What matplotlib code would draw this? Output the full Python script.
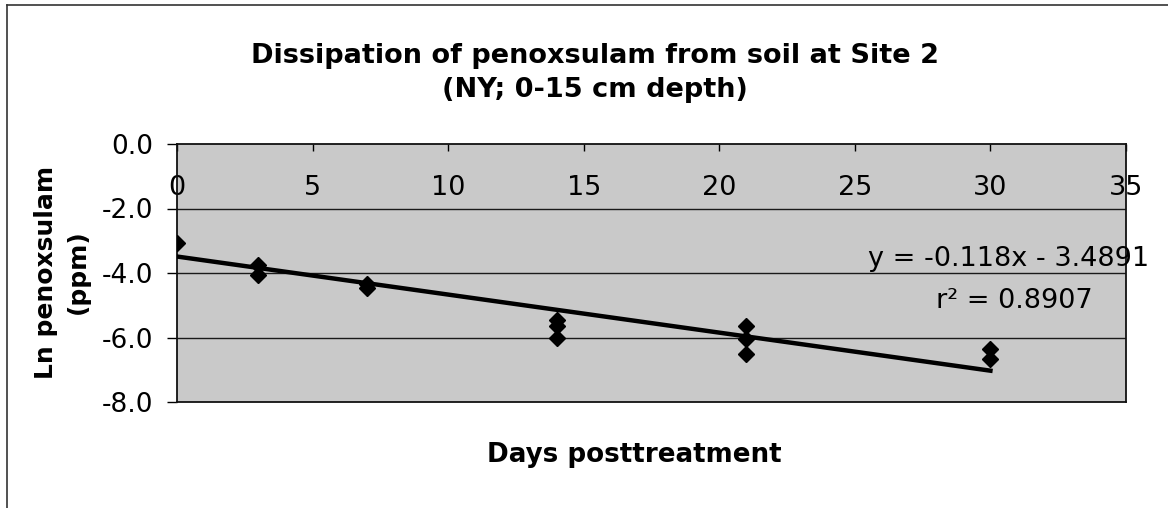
import numpy as np
import matplotlib
matplotlib.use("Agg")
import matplotlib.pyplot as plt
from matplotlib.lines import Line2D

plt.rcParams['font.family'] = ['DejaVu Sans']

# data
days = [0, 3, 3, 7, 7, 14, 14, 14, 21, 21, 21, 30, 30]
ln_ppm = [-3.08, -3.75, -4.05, -4.33, -4.47, -5.45, -5.65, -6.02,
          -5.65, -6.05, -6.5, -6.36, -6.66]
slope = -0.118
intercept = -3.4891
r2 = 0.8907
x_ticks = [0, 5, 10, 15, 20, 25, 30, 35]
y_ticks = [0.0, -2.0, -4.0, -6.0, -8.0]

W, H = 1168, 508
fig = plt.figure(figsize=(W / 100, H / 100), dpi=100)
fig.patch.set_facecolor('white')
ax = fig.add_axes([177 / W, 1 - 402 / H, (1126 - 177) / W, (402 - 144) / H])
ax.set_facecolor('#c9c9c9')

# trend line from the fitted equation
fit_x = np.array([min(days), max(days)])
ax.plot(fit_x, slope * fit_x + intercept, color='black', lw=3.2, zorder=3)
ax.plot(days, ln_ppm, linestyle='none', marker='D', markersize=8.5,
        color='black', zorder=4)

ax.set_xlim(0, 35)
ax.set_ylim(-8, 0)
ax.set_yticks(y_ticks)
ax.set_yticklabels(['%.1f' % v for v in y_ticks], fontsize=19)
ax.set_xticks(x_ticks)
ax.set_xticklabels([str(v) for v in x_ticks], fontsize=19.5)
ax.xaxis.tick_top()
ax.tick_params(axis='x', direction='in', length=5, width=1, pad=-41)
ax.tick_params(axis='y', direction='out', length=7, width=1, pad=10)
for v in y_ticks[1:-1]:
    ax.axhline(v, color='#1a1a1a', lw=1.0, zorder=1)
for s in ax.spines.values():
    s.set_color('#111111')
    s.set_linewidth(1.3)

ax.text(25.5, -3.77, 'y = -0.118x - 3.4891', fontsize=19.5, ha='left',
        va='baseline', clip_on=False)
ax.text(27.98, -5.1, 'r² = %.4f' % r2, fontsize=19.5, ha='left',
        va='baseline', clip_on=False)

fig.text(595 / W, 1 - 63 / H, 'Dissipation of penoxsulam from soil at Site 2',
         fontsize=19.5, fontweight='bold', ha='center', va='baseline')
fig.text(595 / W, 1 - 97 / H, '(NY; 0-15 cm depth)',
         fontsize=19.5, fontweight='bold', ha='center', va='baseline')
fig.text(634 / W, 1 - 462 / H, 'Days posttreatment', fontsize=18.8,
         fontweight='bold', ha='center', va='baseline')
fig.text(62 / W, 1 - 272 / H, 'Ln penoxsulam\n(ppm)', fontsize=18,
         fontweight='bold', ha='center', va='center', rotation=90,
         multialignment='center', linespacing=1.45)

# outer chart frame (top and left edges only visible)
fig.add_artist(Line2D([7 / W, 1], [1 - 5 / H, 1 - 5 / H], color='#333333',
                      lw=1.2, transform=fig.transFigure))
fig.add_artist(Line2D([7 / W, 7 / W], [0, 1 - 5 / H], color='#333333',
                      lw=1.2, transform=fig.transFigure))

fig.savefig('out.png', dpi=100)
